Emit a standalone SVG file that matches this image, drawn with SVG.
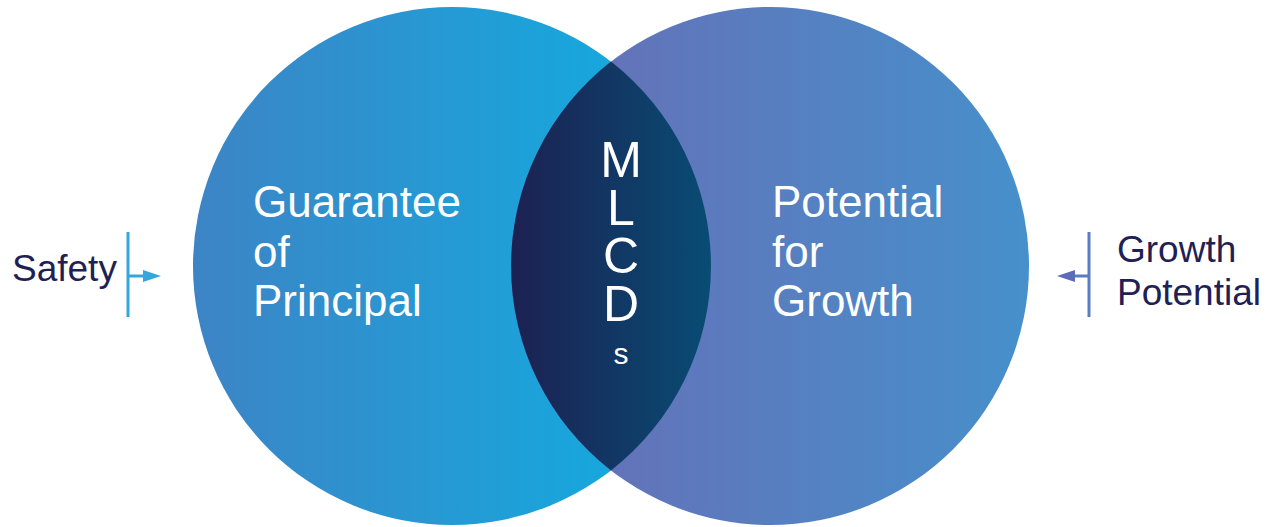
<svg xmlns="http://www.w3.org/2000/svg" width="1280" height="527" viewBox="0 0 1280 527">
<defs>
<linearGradient id="gL" gradientUnits="userSpaceOnUse" x1="193" y1="0" x2="711" y2="0">
<stop offset="0" stop-color="#3d84c5"/><stop offset="1" stop-color="#0db0e3"/>
</linearGradient>
<linearGradient id="gR" gradientUnits="userSpaceOnUse" x1="511" y1="0" x2="1029" y2="0">
<stop offset="0" stop-color="#6a6cb5"/><stop offset="1" stop-color="#4690cb"/>
</linearGradient>
<linearGradient id="gM" gradientUnits="userSpaceOnUse" x1="511" y1="0" x2="711" y2="0">
<stop offset="0" stop-color="#1c2152"/><stop offset="1" stop-color="#084c74"/>
</linearGradient>
<style>
.w{fill:#ffffff;font-family:"Liberation Sans",Arial,sans-serif;font-size:44px}
.n{fill:#1f2154;font-family:"Liberation Sans",Arial,sans-serif;font-size:37px}
.m{fill:#ffffff;font-family:"Liberation Sans",Arial,sans-serif;font-size:50px;writing-mode:vertical-rl;text-orientation:upright;letter-spacing:-8px}
</style>
</defs>
<g id="left-circle">
<circle cx="452" cy="266" r="259" fill="url(#gL)"/>
<text class="w" x="253" y="217">Guarantee</text>
<text class="w" x="253" y="267">of</text>
<text class="w" x="253" y="316">Principal</text>
</g>
<g id="right-circle">
<circle cx="770" cy="266" r="259" fill="url(#gR)"/>
<text class="w" x="772" y="217">Potential</text>
<text class="w" x="772" y="267">for</text>
<text class="w" x="772" y="316">Growth</text>
</g>
<g id="overlap">
<path d="M611 61.6 A259 259 0 0 1 611 470.4 A259 259 0 0 1 611 61.6 Z" fill="url(#gM)"/>
<text class="m" x="621" y="132">MLCD<tspan dy="13" style="font-size:30px">s</tspan></text>
</g>
<g id="safety">
<text class="n" x="12" y="281">Safety</text>
</g>
<g id="growth-potential">
<text class="n" x="1117" y="262">Growth</text>
<text class="n" x="1117" y="305">Potential</text>
</g>
<g id="connectors" fill="none" stroke-width="3">
<line x1="128" y1="232" x2="128" y2="317" stroke="#35a6db"/>
<line x1="128" y1="276" x2="145" y2="276" stroke="#35a6db"/>
<path d="M143 270 L161 276 L143 282 Z" fill="#35a6db" stroke="none"/>
<line x1="1089" y1="232" x2="1089" y2="317" stroke="#5a7dc2"/>
<line x1="1089" y1="276" x2="1073" y2="276" stroke="#5a7dc2"/>
<path d="M1075 270 L1057 276 L1075 282 Z" fill="#5c6cb8" stroke="none"/>
</g>
</svg>
